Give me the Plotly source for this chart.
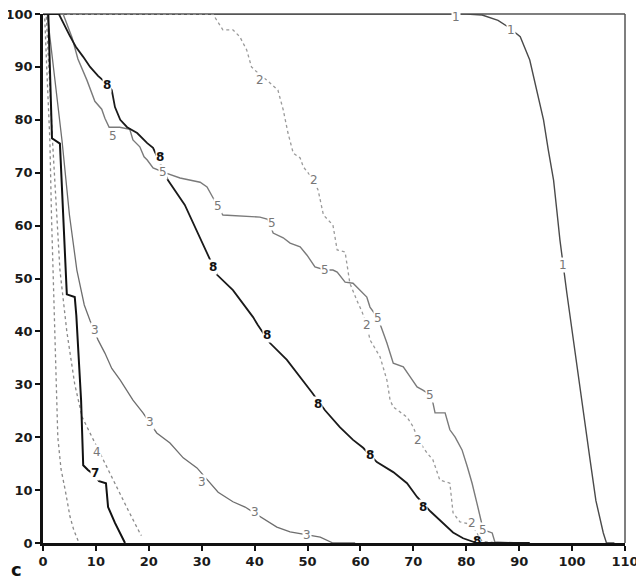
import plotly.graph_objects as go

# ---- data (dose %, volume %) ----
x1 = [0, 80, 83, 86, 88, 90.2, 92, 93.3, 94.6, 95.5, 96.5, 97.1, 97.7, 99, 100.9, 102, 103.4, 104.5, 105.9, 106.5, 108]
y1 = [100, 100, 99.8, 98.8, 97.5, 95.7, 91.3, 85.6, 80, 74.3, 68.6, 63, 57.3, 47.3, 33.3, 25, 15.7, 8, 1.9, 0, 0]

x2 = [0, 32.1, 34, 35.9, 37.2, 38.5, 39.4, 41, 42.3, 44.4, 45.4, 46.3, 47.3, 48.6, 49.2, 51.2, 52, 52.4, 53, 54.8,
      55.6, 57.1, 58, 59.3, 60.3, 61.2, 61.8, 63.7, 65, 65.6, 66.2, 68.8, 70, 70.9, 72.6, 73.7, 75, 76.9, 77.5, 78.8,
      81, 82, 83, 87]
y2 = [100, 100, 97, 97, 95.7, 93.2, 90, 88.5, 87.5, 85.6, 81.9, 77.5, 73.7, 72.8, 71.1, 68.6, 66.7, 64.8, 62, 60.1,
      55.4, 55, 49.1, 45.9, 43.7, 41.2, 38.4, 35.2, 30.8, 27, 25.7, 23.8, 21.9, 19.5, 17, 15.7, 11.9, 11.3, 5.7, 4,
      3.5, 1.9, 0.3, 0]

x3 = [0, 0.8, 2.2, 3.6, 5, 6.4, 7.8, 8.9, 10.4, 11.7, 13, 14.6, 17, 18.9, 21.5, 24, 26.5, 29.1, 33.1, 35.9,
      38.2, 41.6, 44.2, 46.7, 52.4, 54.8, 59]
y3 = [100, 100, 88, 76, 62, 51.6, 45, 42, 38.4, 35.9, 33, 30.8, 27, 24.6, 20.8, 18.9, 16.1, 14.2, 9.6, 7.8,
      6.8, 4.7, 3, 2.1, 1.1, 0, 0]

x4 = [0, 0.6, 1.8, 3.2, 4.5, 6, 7.4, 9.5, 11.2, 13.6, 16.1, 18.3, 18.6]
y4 = [100, 100, 76, 51.6, 40, 30, 23.8, 19.5, 16.1, 11.3, 6.2, 1.9, 1.4]

x5 = [0, 3.8, 5.5, 6.6, 8.3, 9.8, 11.1, 11.7, 12.5, 14.5, 16.4, 17, 18.3, 19.1, 19.7, 20.8, 23, 25.9, 29.7, 31,
      32, 33.1, 34, 41, 42.5, 43.5, 45.4, 46.7, 48.6, 49.9, 51.4, 53.3, 54.8, 55.6, 57.1, 58.6, 59.9, 61.2, 61.8, 63.3,
      64.1, 65, 66.2, 68.1, 69.4, 70.7, 71.8, 73.2, 73.7, 74.1, 76, 76.9, 77.9, 79.2, 80.2, 81.1, 82, 82.6, 83.2, 84.9,
      85.4, 90]
y5 = [100, 100, 95.5, 91.5, 87.5, 83.5, 82, 80.3, 78.6, 78.6, 78.2, 76.2, 74.9, 73, 72.4, 70.9, 70, 69, 68.2, 67.3,
      65.5, 63.7, 62, 61.6, 61.2, 58.6, 57.7, 56.7, 56, 54.4, 52.2, 51.6, 51.6, 51.2, 49.3, 49.1, 47.8, 46.5, 44.6, 42.5,
      40.3, 37.8, 34, 33.3, 31.4, 29.5, 28.9, 28, 26.5, 24.6, 24.6, 21.4, 20, 17.6, 14.4, 11.3, 7.6, 4.9, 2.5, 1.9,
      0.2, 0]

x6 = [0, 0.3, 0.7, 1.3, 1.6, 1.9, 2.3, 2.6, 2.8, 3.4, 4.2, 5.1, 5.8, 6.4, 6.8]
y6 = [100, 100, 90, 76, 62, 50, 35, 27, 20, 14, 10, 5, 2.5, 1, 0]

x7 = [0, 1.0, 1.7, 3.2, 4.5, 6.0, 6.3, 6.8, 7.2, 7.6, 8.5, 9.3, 10.6, 11.9, 12.3, 13.6, 15.1, 15.5]
y7 = [100, 100, 76.5, 75.5, 47, 46.5, 43, 35, 27, 14.7, 13.8, 13.2, 11.7, 11.3, 6.8, 3.8, 0.6, 0]

x8 = [0, 3.0, 5.0, 6.2, 7.6, 8.9, 10.4, 12.1, 13, 13.6, 14.6, 15.9, 17.8, 19.7, 20.8, 22.1, 23.6, 26.8, 31, 32.9,
      35.9, 37.8, 39.7, 40.6, 42.9, 46.1, 48.6, 50.8, 53.3, 56.1, 58.6, 60.5, 63.1, 66.2, 68.8, 70.7, 73.2, 75.6, 77.5, 79.4,
      80.7, 82, 92]
y8 = [100, 100, 96, 93.8, 91.9, 90, 88.3, 86.8, 85.6, 82.4, 80, 78.6, 77.5, 75.6, 74.7, 72, 68.6, 63.9, 54.8, 50.7,
      47.8, 45.3, 42.7, 41.2, 37.8, 34.6, 31.4, 28.5, 25.1, 21.9, 19.5, 18, 15.3, 13.4, 11.3, 8.7, 6, 3.8, 2, 0.9,
      0.5, 0, 0]

# curve number labels placed along the curves
lab1_x = [78, 88.5, 98.2, 108.1]
lab1_y = [99.5, 97, 52.5, -0.8]
lab2_x = [41, 51.2, 61.2, 70.9, 81]
lab2_y = [87.5, 68.6, 41.2, 19.5, 3.8]
lab3_x = [9.8, 20.2, 30, 40.1, 49.9]
lab3_y = [40.3, 22.9, 11.5, 5.9, 1.5]
lab4_x = [10.2]
lab4_y = [17.2]
lab5_x = [13.2, 22.7, 33.1, 43.3, 53.3, 63.3, 73.2, 83.2]
lab5_y = [76.9, 70.1, 63.7, 60.5, 51.6, 42.5, 28, 2.5]
lab7_x = [9.8]
lab7_y = [13.2]
lab8_x = [12.1, 22.1, 32.1, 42.3, 52, 61.8, 71.8, 82, 91.7]
lab8_y = [86.6, 73, 52.2, 39.3, 26.3, 16.6, 6.8, 0.3, -1.3]

x_ticks = [0, 10, 20, 30, 40, 50, 60, 70, 80, 90, 100, 110]
y_ticks = [0, 10, 20, 30, 40, 50, 60, 70, 80, 90, 100]

# ---- styling ----
curves = [
    ("1", x1, y1, lab1_x, lab1_y, "#4a4a4a", 1.4, "solid"),
    ("2", x2, y2, lab2_x, lab2_y, "#9a9a9a", 1.3, "dot"),
    ("3", x3, y3, lab3_x, lab3_y, "#6e6e6e", 1.3, "solid"),
    ("4", x4, y4, lab4_x, lab4_y, "#8a8a8a", 1.3, "dot"),
    ("5", x5, y5, lab5_x, lab5_y, "#7a7a7a", 1.4, "solid"),
    ("6", x6, y6, [], [], "#8a8a8a", 1.3, "dot"),
    ("7", x7, y7, lab7_x, lab7_y, "#111111", 2.0, "solid"),
    ("8", x8, y8, lab8_x, lab8_y, "#1a1a1a", 1.8, "solid"),
]

fig = go.Figure()
annotations = []
for name, xs, ys, lx, ly, col, w, dash in curves:
    assert len(xs) == len(ys)
    fig.add_trace(go.Scatter(x=xs, y=ys, mode="lines", name=name,
                             line=dict(color=col, width=w, dash=dash),
                             showlegend=False, hoverinfo="skip"))
    for ax_, ay_ in zip(lx, ly):
        annotations.append(dict(
            x=ax_, y=ay_, xref="x", yref="y", text=name, showarrow=False,
            font=dict(family="DejaVu Sans", size=12,
                      color=("#111111" if name in ("7", "8") else "#777777"),
                      weight=("bold" if name in ("7", "8") else "normal")),
            bgcolor=("white" if ay_ > 1 else "rgba(0,0,0,0)"), borderpad=0))

annotations.append(dict(x=0, y=0, xref="paper", yref="paper", xshift=-34, yshift=-39,
                        text="c", showarrow=False,
                        font=dict(family="DejaVu Sans", size=18, color="#111", weight="bold"),
                        xanchor="left", yanchor="bottom"))

tickfont = dict(family="DejaVu Sans", size=13, color="#1a1a1a", weight="bold")

# the page body has an 8px offset, so the figure is sized to fit the 644x582 window
fig.update_layout(
    width=636, height=574,
    margin=dict(l=35, r=19, t=6, b=39, autoexpand=False),
    paper_bgcolor="white", plot_bgcolor="white",
    xaxis=dict(range=[0, 110], tickvals=x_ticks, ticktext=[str(v) for v in x_ticks],
               automargin=False, ticklabeloverflow="allow",
               showgrid=False, zeroline=False, showline=True, linecolor="#111", linewidth=2.5,
               ticks="outside", ticklen=5, tickwidth=1.5, tickcolor="#111", tickfont=tickfont),
    yaxis=dict(range=[0, 100], tickvals=y_ticks, ticktext=[str(v) for v in y_ticks],
               automargin=False, ticklabeloverflow="allow",
               showgrid=False, zeroline=False, showline=True, linecolor="#111", linewidth=2.5,
               ticks="outside", ticklen=5, tickwidth=1.5, tickcolor="#111", tickfont=tickfont),
    xaxis2=dict(range=[0, 110], overlaying="x", anchor="y", side="bottom", tickvals=x_ticks,
                showticklabels=False, showgrid=False, zeroline=False, showline=False,
                ticks="inside", ticklen=4, tickwidth=1.5, tickcolor="#111"),
    yaxis2=dict(range=[0, 100], overlaying="y", anchor="x", side="left", tickvals=y_ticks,
                showticklabels=False, showgrid=False, zeroline=False, showline=False,
                ticks="inside", ticklen=4, tickwidth=1.5, tickcolor="#111"),
    annotations=annotations,
    shapes=[
        dict(type="line", xref="paper", yref="paper", x0=0, x1=1, y0=1, y1=1,
             line=dict(color="#555", width=1.5), layer="below"),
        dict(type="line", xref="paper", yref="paper", x0=1, x1=1, y0=0, y1=1,
             line=dict(color="#555", width=1.5), layer="below"),
    ],
)

fig.write_html("out.html")
